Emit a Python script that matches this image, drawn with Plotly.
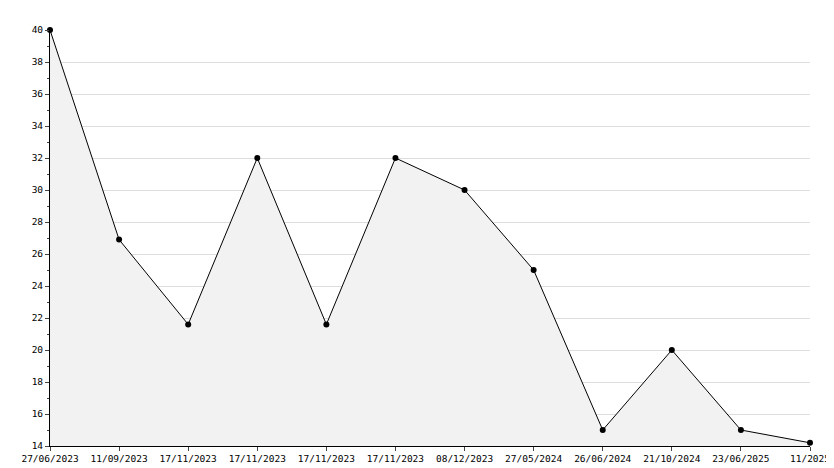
import plotly.graph_objects as go

labels = ["27/06/2023","11/09/2023","17/11/2023","17/11/2023","17/11/2023","17/11/2023",
          "08/12/2023","27/05/2024","26/06/2024","21/10/2024","23/06/2025","11/2025"]
values = [40, 26.9, 21.6, 32, 21.6, 32, 30, 25, 15, 20, 15, 14.2]
idx = list(range(len(labels)))

fig = go.Figure(go.Scatter(
    x=idx, y=values, mode="lines+markers", fill="tozeroy", fillcolor="#f2f2f2",
    line=dict(color="black", width=1), marker=dict(color="black", size=6, symbol="circle"),
    cliponaxis=False))
font = dict(family="DejaVu Sans Mono", size=9.5, color="black")
fig.update_layout(
    width=834, height=468, margin=dict(l=42, r=23, t=22, b=23),
    paper_bgcolor="white", plot_bgcolor="white", showlegend=False, font=font,
    xaxis=dict(tickmode="array", tickvals=idx, ticktext=labels, range=[0, 11],
               showgrid=False, showline=True, linecolor="black", ticks="outside",
               ticklen=4, zeroline=False, tickangle=0),
    yaxis=dict(range=[14, 40], dtick=2, showgrid=True, gridcolor="#dddddd",
               showline=True, linecolor="black", ticks="outside", ticklen=4,
               zeroline=False, minor=dict(dtick=1, ticks="outside", ticklen=2, showgrid=False)),
)
fig.write_html("out.html")
